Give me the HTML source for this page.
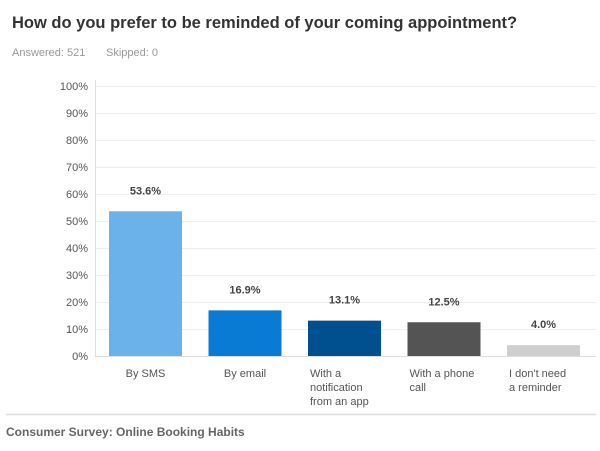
<!DOCTYPE html>
<html><head><meta charset="utf-8"><style>
body{margin:0;width:600px;height:446px;background:#fff;font-family:"Liberation Sans",sans-serif;overflow:hidden}
</style></head><body>
<svg width="600" height="446">
<text x="12" y="28" font-size="16.5" font-weight="bold" fill="#333">How do you prefer to be reminded of your coming appointment?</text>
<text x="12" y="56" font-size="11" fill="#999">Answered: 521</text>
<text x="106" y="56" font-size="11" fill="#999">Skipped: 0</text>
<g id="grid"></g><g id="bars"></g>
<line x1="95.5" y1="80" x2="95.5" y2="357" stroke="#ddd"/>
<line x1="6" y1="414.5" x2="596" y2="414.5" stroke="#ddd" stroke-width="1.5"/>
<text x="6" y="436" font-size="12" font-weight="bold" fill="#666">Consumer Survey: Online Booking Habits</text>
</svg>
<script>
const categories=[["By SMS"],["By email"],["With a","notification","from an app"],["With a phone","call"],["I don't need","a reminder"]];
const values=[53.6,16.9,13.1,12.5,4.0];
const valueLabels=["53.6%","16.9%","13.1%","12.5%","4.0%"];
const colors=["#6cb2ea","#0a7bd4","#00508f","#545454","#cfcfcf"];
const ticks=[0,10,20,30,40,50,60,70,80,90,100];
const NS="http://www.w3.org/2000/svg";
const y0=356,y100=86;
function y(v){return y0-(y0-y100)*v/100;}
function x(i){return 109+i*99.5;}
const bw=73;
const g=document.getElementById('grid'),b=document.getElementById('bars');
function el(t,a,p){const e=document.createElementNS(NS,t);for(const k in a)e.setAttribute(k,a[k]);p.appendChild(e);return e;}
ticks.forEach(t=>{
 const l=el('line',{x1:96,x2:596,y1:y(t)+.5,y2:y(t)+.5,stroke:t===0?'#ddd':'#eee'},g);
 
 
 const tx=el('text',{x:88,y:y(t)+4,'font-size':11,fill:'#555','text-anchor':'end'},g);
 tx.textContent=t+'%';
 
 
});
values.forEach((v,i)=>{
 const r=el('rect',{x:x(i),y:y(v),width:bw,height:y0-y(v),fill:colors[i]},b);
 
 
 const t=el('text',{x:x(i)+bw/2,y:y(v)-17,'font-size':11,'font-weight':'bold',fill:'#444','text-anchor':'middle'},b);
 t.textContent=valueLabels[i];
 
 
 const c=el('text',{x:i<2?x(i)+bw/2:x(i)+2,y:377,'font-size':11,fill:'#555','text-anchor':i<2?'middle':'start'},b);
 
 
 categories[i].forEach((s,j)=>{const ts=el('tspan',{x:c.getAttribute('x'),dy:j?14:0},c);ts.textContent=s;});
});
</script>
</body></html>
